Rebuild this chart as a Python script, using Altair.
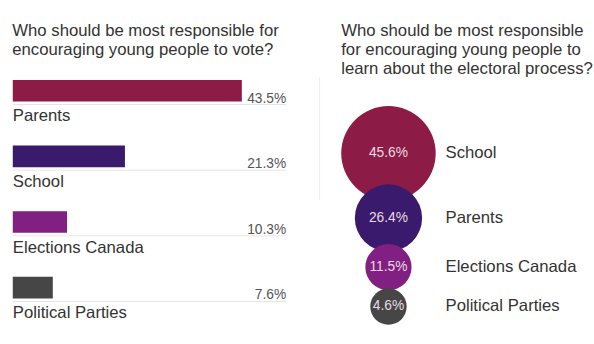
import altair as alt
import pandas as pd

# ---- data ----
vote_categories = ["Parents", "School", "Elections Canada", "Political Parties"]
vote_values = [43.5, 21.3, 10.3, 7.6]
vote_labels = ["43.5%", "21.3%", "10.3%", "7.6%"]

learn_categories = ["School", "Parents", "Elections Canada", "Political Parties"]
learn_values = [45.6, 26.4, 11.5, 4.6]
learn_labels = ["45.6%", "26.4%", "11.5%", "4.6%"]

rank_colors = ["#8c1b45", "#3a1a6c", "#821f82", "#464646"]

FONT = "Liberation Sans"
TXT = "#333333"

df1 = pd.DataFrame({"cat": vote_categories, "pct": vote_values,
                    "label": vote_labels, "rank": list(range(len(vote_values)))})
df2 = pd.DataFrame({"cat": learn_categories, "pct": learn_values,
                    "label": learn_labels, "rank": list(range(len(learn_values)))})

color = alt.Color("rank:O", scale=alt.Scale(domain=[0, 1, 2, 3], range=rank_colors), legend=None)

# ---- left panel: bars ----
W1, H1 = 310, 267
y1 = alt.Y("cat:N", sort=vote_categories, axis=None,
           scale=alt.Scale(paddingInner=0, paddingOuter=0))
base1 = alt.Chart(df1).encode(y=y1)

track = base1.mark_rule(color="#e4e4e4", strokeWidth=1, yOffset=14).encode(
    x=alt.value(0), x2=alt.value(W1 - 32))
bars = base1.mark_bar(size=22).encode(
    x=alt.X("pct:Q", scale=alt.Scale(domain=[0, 57.9]), axis=None), color=color)
vals = base1.mark_text(align="right", baseline="middle", dy=8, fontSize=14,
                       color="#555555", font=FONT).encode(x=alt.value(W1 - 32), text="label:N")
names = base1.mark_text(align="left", baseline="middle", dy=26, fontSize=17,
                        color=TXT, font=FONT).encode(x=alt.value(0), text="cat:N")
sep = alt.Chart(pd.DataFrame({"a": [0]})).mark_rule(color="#eeeeee").encode(
    x=alt.value(W1 + 2), y=alt.value(20), y2=alt.value(145))

left = alt.layer(track, bars, vals, names, sep).properties(
    width=W1, height=H1,
    title=alt.TitleParams(["Who should be most responsible for",
                           "encouraging young people to vote?"],
                          anchor="start", fontSize=17, font=FONT, fontWeight="normal",
                          color=TXT, lineHeight=19, offset=-1))

# ---- right panel: stacked circles ----
W2, H2 = 252, 287
base2 = alt.Chart(df2).transform_calculate(
    r="15.2 + 0.72 * datum.pct"
).transform_calculate(
    d="2 * datum.r"
).transform_calculate(
    area="datum.d * datum.d"
).transform_window(
    cum="sum(d)", sort=[alt.SortField("rank")]
).transform_calculate(
    c="datum.cum - datum.r + 20.4 * datum.rank"
).encode(
    y=alt.Y("c:Q", axis=None,
            scale=alt.Scale(domain=[-103.3, 344.5], reverse=True, zero=False, nice=False))
)

circles = base2.mark_circle(opacity=1).encode(
    x=alt.value(45), size=alt.Size("area:Q", scale=None), color=color)
clabels = base2.mark_text(align="center", baseline="middle", fontSize=14,
                          color="#eadbe3", font=FONT).encode(x=alt.value(45), text="label:N")
rnames = base2.mark_text(align="left", baseline="middle", fontSize=17,
                         color=TXT, font=FONT).encode(x=alt.value(103), text="cat:N")

right = alt.layer(circles, clabels, rnames).properties(
    width=W2, height=H2,
    title=alt.TitleParams(["Who should be most responsible",
                           "for encouraging young people to",
                           "learn about the electoral process?"],
                          anchor="start", fontSize=17, font=FONT, fontWeight="normal",
                          color=TXT, lineHeight=19, offset=-20))

chart = alt.hconcat(left, right, spacing=20).properties(
    padding={"left": 12, "top": 20, "right": 0, "bottom": 0},
    background="white",
).configure_view(stroke=None)

chart.save("out.html", embed_options={"renderer": "svg", "actions": False})
